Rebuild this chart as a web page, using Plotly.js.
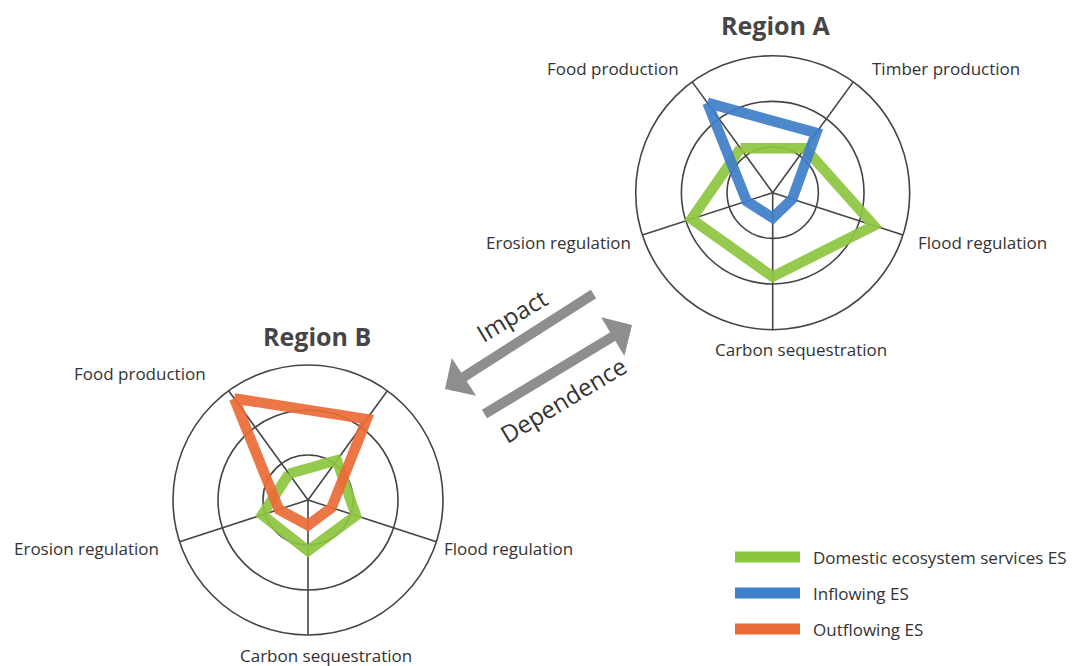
<!DOCTYPE html>
<html>
<head>
<meta charset="utf-8">
<script src="https://cdn.plot.ly/plotly-3.0.1.min.js"></script>
<style>
  html, body { margin: 0; padding: 0; background: #ffffff; }
  #chart { width: 1073px; height: 666px; }
</style>
</head>
<body>
<div id="chart"></div>
<script>
/* ==========================================
   DATA
========================================== */

const services = ["Food production", "Timber production", "Flood regulation", "Carbon sequestration", "Erosion regulation"];

// Region A
const aDomestic = [1.2, 1.2, 2.33, 1.84, 1.87];
const aInflowing = [2.43, 1.62, 0.45, 0.55, 0.6];

// Region B
const bDomestic = [0.72, 1.09, 1.12, 1.13, 1.07];
const bOutflowing = [2.79, 2.22, 0.55, 0.56, 0.68];

const seriesNames = ["Domestic ecosystem services ES", "Inflowing ES", "Outflowing ES"];
const seriesColors = ["#8cc63f", "#3f7ec8", "#ea6a36"];

const regionTitles = ["Region A", "Region B"];


/* ==========================================
   HELPERS
========================================== */

const W = 1073, H = 666;

function px(x){ return x / W; }
function py(y){ return 1 - y / H; }

function closeLoop(arr){ return arr.concat([arr[0]]); }

function radarTrace(values, color, subplot, name){
    return {
        type: "scatterpolar",
        r: closeLoop(values),
        theta: closeLoop(services),
        mode: "lines",
        name: name,
        subplot: subplot,
        showlegend: false,
        opacity: 0.92,
        line: { color: color, width: 10.5 },
        hoverinfo: "skip"
    };
}

function polarLayout(x0, x1, y0, y1){
    return {
        domain: { x: [px(x0), px(x1)], y: [py(y1), py(y0)] },
        bgcolor: "rgba(0,0,0,0)",
        radialaxis: {
            range: [0, 3],
            tickvals: [1, 2],
            showticklabels: false,
            ticks: "",
            showline: false,
            gridcolor: "#444444",
            gridwidth: 1.6
        },
        angularaxis: {
            direction: "clockwise",
            rotation: 126,
            showticklabels: false,
            ticks: "",
            showline: true,
            linecolor: "#444444",
            linewidth: 1.6,
            gridcolor: "#444444",
            gridwidth: 1.6
        }
    };
}


/* ==========================================
   TRACES
========================================== */

const traces = [
    radarTrace(aDomestic, seriesColors[0], "polar", seriesNames[0]),
    radarTrace(aInflowing, seriesColors[1], "polar", seriesNames[1]),
    radarTrace(bDomestic, seriesColors[0], "polar2", seriesNames[0]),
    radarTrace(bOutflowing, seriesColors[2], "polar2", seriesNames[2])
];


/* ==========================================
   TEXT
========================================== */

const labelFont = { family: "Open Sans, sans-serif", size: 17, color: "#333333" };
const titleFont = { family: "Open Sans, sans-serif", size: 25, color: "#454545", weight: 700 };

// label centre positions (px) for each service, region A and B (null = not shown)
const labelPosA = [[613, 68], [946, 68], [982, 242], [801, 349], [558, 242]];
const labelPosB = [[140, 373], null, [508, 548], [326, 655], [86, 548]];

let annotations = [];

function addLabels(pos){
    pos.forEach((p, i) => {
        if(!p) return;
        annotations.push({ text: services[i], x: px(p[0]), y: py(p[1]), xref: "paper", yref: "paper",
            showarrow: false, xanchor: "center", yanchor: "middle", font: labelFont });
    });
}

addLabels(labelPosA);
addLabels(labelPosB);

annotations.push({ text: "<b>" + regionTitles[0] + "</b>", x: px(775), y: py(25), xref: "paper", yref: "paper",
    showarrow: false, xanchor: "center", yanchor: "middle", font: titleFont });
annotations.push({ text: "<b>" + regionTitles[1] + "</b>", x: px(317), y: py(336), xref: "paper", yref: "paper",
    showarrow: false, xanchor: "center", yanchor: "middle", font: titleFont });

// arrows
const arrowColor = "#8e8e8e";
annotations.push({ text: "", x: px(445), y: py(389), xref: "paper", yref: "paper",
    showarrow: true, ax: 150, ay: -96, arrowhead: 1, arrowwidth: 10, arrowsize: 0.75, arrowcolor: arrowColor, standoff: 0 });
annotations.push({ text: "", x: px(632), y: py(325), xref: "paper", yref: "paper",
    showarrow: true, ax: -149, ay: 90, arrowhead: 1, arrowwidth: 10, arrowsize: 0.75, arrowcolor: arrowColor, standoff: 0 });

const arrowFont = { family: "Open Sans, sans-serif", size: 24, color: "#333333" };
annotations.push({ text: "Impact", x: px(511), y: py(315), xref: "paper", yref: "paper",
    showarrow: false, textangle: -31, xanchor: "center", yanchor: "middle", font: arrowFont });
annotations.push({ text: "Dependence", x: px(563), y: py(399), xref: "paper", yref: "paper",
    showarrow: false, textangle: -31, xanchor: "center", yanchor: "middle", font: arrowFont });

// legend
const legendY = [557, 593, 629];
let shapes = [];
seriesNames.forEach((name, i) => {
    shapes.push({ type: "rect", xref: "paper", yref: "paper",
        x0: px(735), x1: px(800), y0: py(legendY[i] + 5.5), y1: py(legendY[i] - 5.5),
        fillcolor: seriesColors[i], line: { width: 0 } });
    annotations.push({ text: name, x: px(811), y: py(legendY[i]), xref: "paper", yref: "paper",
        showarrow: false, xanchor: "left", yanchor: "middle", font: labelFont });
});


/* ==========================================
   LAYOUT
========================================== */

const layout = {
    width: W,
    height: H,
    margin: { l: 0, r: 0, t: 0, b: 0 },
    paper_bgcolor: "#ffffff",
    plot_bgcolor: "#ffffff",
    showlegend: false,
    polar: polarLayout(635.7, 909.7, 55.7, 329.7),
    polar2: polarLayout(173, 443, 365, 635),
    annotations: annotations,
    shapes: shapes
};

Plotly.newPlot("chart", traces, layout, { staticPlot: true });
</script>
</body>
</html>
